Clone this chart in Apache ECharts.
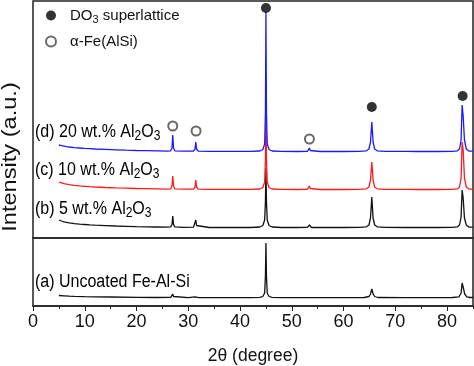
<!DOCTYPE html>
<html>
<head>
<meta charset="utf-8">
<script src="https://cdn.jsdelivr.net/npm/echarts@6/dist/echarts.min.js"></script>
<style>
html,body{margin:0;padding:0;background:#fff;}
#chart{width:474px;height:366px;}
</style>
</head>
<body>
<div id="chart"></div>
<script>
// ---- Data: [2θ (degree), intensity above the trace baseline (a.u.)] ----
const seriesD = [[5,7],[5.5,6.4],[6,5.9],[6.5,5.4],[7,5],[8,4.4],[9,4],[10,3.6],[11,3.3],[12,3],[14,2.6],[16,2.2],[18,1.8],[20,1.5],[22,1.3],[24,1.1],[26,0.9],[26.6,1.2],[26.85,4],[27,17],[27.15,4],[27.4,1.2],[29,0.8],[31,0.9],[31.3,3],[31.45,10],[31.6,3],[31.9,0.9],[34,0.6],[38,0.6],[42,0.6],[43.8,1],[44.4,2.5],[44.75,8],[44.9,40],[45.0,140],[45.1,40],[45.25,8],[45.6,2.5],[46.2,1],[48,0.6],[51,0.5],[53,0.7],[53.25,1.5],[53.4,4],[53.55,1.5],[53.8,0.6],[55.5,0.5],[55.8,2],[56.1,0.5],[60,0.5],[63,0.6],[64.4,1.2],[64.9,3],[65.2,10],[65.45,30],[65.7,10],[66,3],[66.5,1.2],[68,0.6],[71.9,0.6],[72.1,1.5],[72.3,0.6],[74.3,0.5],[74.5,1.5],[74.7,0.5],[78,0.5],[81,0.7],[82,1.2],[82.4,3],[82.7,12],[82.9,47],[83.1,36],[83.35,12],[83.7,3],[84.2,1],[85,0.8]];
const seriesC = [[5,8],[5.5,7.2],[6,6.4],[6.5,5.8],[7,5.3],[8,4.6],[9,4.1],[10,3.7],[11,3.3],[12,3],[14,2.5],[16,2.1],[18,1.8],[20,1.5],[22,1.3],[24,1.1],[26,0.9],[26.6,1.2],[26.85,4],[27,14],[27.15,4],[27.4,1.2],[29,0.8],[31,0.9],[31.3,3],[31.45,10],[31.6,3],[31.9,0.9],[34,0.6],[38,0.6],[42,0.6],[43.8,1],[44.4,2.5],[44.75,8],[44.9,30],[45.0,82],[45.1,30],[45.25,8],[45.6,2.5],[46.2,1],[48,0.6],[51,0.5],[53,0.7],[53.25,1.5],[53.4,4],[53.55,1.5],[53.8,0.6],[55.5,0.5],[55.8,2],[56.1,0.5],[60,0.5],[63,0.6],[64.4,1.2],[64.9,3],[65.2,10],[65.45,28],[65.7,10],[66,3],[66.5,1.2],[68,0.6],[71.9,0.6],[72.1,1.5],[72.3,0.6],[74.3,0.5],[74.5,1.5],[74.7,0.5],[78,0.5],[81,0.7],[82,1.2],[82.4,3],[82.7,12],[82.9,48],[83.1,40],[83.35,12],[83.7,3],[84.2,1],[85,0.8]];
const seriesB = [[5,8],[5.5,7],[6,6.2],[6.5,5.6],[7,5.1],[8,4.4],[9,3.9],[10,3.5],[11,3.1],[12,2.8],[14,2.4],[16,2],[18,1.7],[20,1.4],[22,1.2],[24,1],[26,0.8],[26.6,1.1],[26.85,3.5],[27,12],[27.15,3.5],[27.4,1.1],[29,0.7],[31,0.8],[31.3,2.5],[31.45,8],[31.6,2.5],[31.9,0.8],[34,0.5],[38,0.5],[42,0.5],[43.8,1],[44.4,2.5],[44.75,8],[44.9,26],[45.0,60],[45.1,26],[45.25,8],[45.6,2.5],[46.2,1],[48,0.5],[51,0.5],[53,0.6],[53.25,1.2],[53.4,3],[53.55,1.2],[53.8,0.5],[55.5,0.5],[55.8,1.5],[56.1,0.5],[60,0.5],[63,0.6],[64.4,1.2],[64.9,3],[65.2,10],[65.45,31],[65.7,10],[66,3],[66.5,1.2],[68,0.6],[71.9,0.5],[72.1,1.5],[72.3,0.5],[74.3,0.5],[74.5,1],[74.7,0.5],[78,0.5],[81,0.7],[82,1.2],[82.4,3],[82.7,11],[82.9,38],[83.1,30],[83.35,10],[83.7,3],[84.2,1],[85,0.8]];
const seriesA = [[5,2.5],[6,2.2],[7,1.9],[8,1.7],[10,1.4],[12,1.2],[15,1],[20,0.7],[24,0.5],[26.6,0.6],[26.85,1.5],[27,4],[27.15,1.5],[27.4,0.6],[30,0.4],[31.3,1.2],[31.45,3],[31.6,1.2],[32,0.4],[36,0.3],[42,0.3],[43.8,0.6],[44.4,1.5],[44.75,5],[44.9,22],[45.0,55],[45.1,22],[45.25,5],[45.6,1.5],[46.2,0.6],[48,0.3],[51,0.3],[53.2,0.4],[53.4,1.5],[53.6,0.4],[55.6,0.4],[55.8,1.5],[56,0.4],[60,0.3],[64,0.5],[64.9,1.5],[65.2,4],[65.45,9],[65.7,4],[66,1.5],[66.6,0.5],[71.9,0.3],[72.1,1],[72.3,0.3],[74.3,0.3],[74.5,1],[74.7,0.3],[81,0.5],[82.3,1.2],[82.7,5],[82.9,15],[83.1,11],[83.4,4],[83.8,1.2],[84.4,0.5],[85,0.5]];

// peak markers (2θ, height on the upper panel scale)
const do3Points = [[45.0,230],[65.45,131],[83.0,142]];
const alphaPoints = [[27.0,112],[31.5,107],[53.4,99]];

// tick labels for 2θ axis
const xTicks = [0,10,20,30,40,50,60,70,80];

// stacking offsets (layout only)
const offD = 86, offC = 48, offB = 10, offA = 8;

const shift = (arr, off) => arr.map(p => [p[0], p[1] + off]);

const FONT = 'Liberation Sans, Arial, sans-serif';
const chart = echarts.init(document.getElementById('chart'), null, {renderer:'canvas'});

const labelRich = (color, fs) => ({
  t:{fontSize:fs, fontFamily:FONT, color:color},
  s:{fontSize:Math.round(fs*0.72), fontFamily:FONT, color:color, padding:[Math.round(fs*0.5),0,0,0]}
});
const txt = (s, y, color) => ({
  type:'text', x:35, y:y, scaleY:1.15,
  style:{text:s, rich:labelRich(color, 16), verticalAlign:'middle', align:'left'}
});

chart.setOption({
  animation:false,
  backgroundColor:'#fff',
  grid:[
    {left:33, right:1, top:1, height:237, show:true, borderColor:'#222', borderWidth:1.5, backgroundColor:'transparent'},
    {left:33, right:1, top:238, height:68, show:true, borderColor:'#222', borderWidth:1.5, backgroundColor:'transparent'}
  ],
  xAxis:[
    {gridIndex:0, type:'value', min:0, max:85, interval:10, show:false},
    {gridIndex:1, type:'value', min:0, max:85, interval:10,
      axisLine:{show:true, onZero:false, lineStyle:{color:'#222', width:1.5}},
      axisTick:{show:true, inside:false, length:5, lineStyle:{color:'#222'}},
      splitLine:{show:false},
      axisLabel:{color:'#111', fontSize:18, fontFamily:FONT, margin:7, showMaxLabel:false,
        formatter:(v)=> xTicks.indexOf(v) >= 0 ? String(v) : ''},
      name:'2\u03b8 (degree)', nameLocation:'middle', nameGap:41,
      nameTextStyle:{color:'#111', fontSize:17.5, fontFamily:FONT}
    },
    {gridIndex:1, type:'value', min:0, max:85, interval:5, position:'bottom',
      axisLine:{show:false}, axisLabel:{show:false}, splitLine:{show:false},
      axisTick:{show:true, inside:false, length:3, lineStyle:{color:'#222'}}
    }
  ],
  yAxis:[
    {gridIndex:0, type:'value', min:0, max:237, show:false},
    {gridIndex:1, type:'value', min:0, max:68, show:false}
  ],
  legend:{
    left:40, top:3, orient:'vertical', itemWidth:28, itemHeight:10, itemGap:9,
    data:[{name:'DO3', icon:'circle'},{name:'alpha', icon:'emptyCircle'}],
    formatter:(n)=> n==='DO3' ? '{t|DO}{s|3}{t| superlattice}' : '{t|\u03b1-Fe(AlSi)}',
    textStyle:{rich:labelRich('#111', 15), fontSize:15, fontFamily:FONT},
    selectedMode:false
  },
  series:[
    {name:'(b)', type:'line', xAxisIndex:0, yAxisIndex:0, data:shift(seriesB, offB), symbol:'none', lineStyle:{color:'#111', width:1.3}, z:2},
    {name:'(c)', type:'line', xAxisIndex:0, yAxisIndex:0, data:shift(seriesC, offC), symbol:'none', lineStyle:{color:'#ff1a1a', width:1.3}, z:3},
    {name:'(d)', type:'line', xAxisIndex:0, yAxisIndex:0, data:shift(seriesD, offD), symbol:'none', lineStyle:{color:'#1a1aff', width:1.3}, z:4},
    {name:'(a)', type:'line', xAxisIndex:1, yAxisIndex:1, data:shift(seriesA, offA), symbol:'none', lineStyle:{color:'#111', width:1.3}, z:2},
    {name:'DO3', type:'scatter', xAxisIndex:0, yAxisIndex:0, data:do3Points, symbol:'circle', symbolSize:10, itemStyle:{color:'#000'}, z:5},
    {name:'alpha', type:'scatter', xAxisIndex:0, yAxisIndex:0, data:alphaPoints, symbol:'emptyCircle', symbolSize:9, itemStyle:{color:'#444', borderColor:'#444', borderWidth:1}, z:5}
  ],
  graphic:[
    txt('{t|(d) 20 wt.% Al}{s|2}{t|O}{s|3}', 132, '#2222dd'),
    txt('{t|(c) 10 wt.% Al}{s|2}{t|O}{s|3}', 170, '#e02222'),
    txt('{t|(b) 5 wt.% Al}{s|2}{t|O}{s|3}', 209, '#111'),
    txt('{t|(a) Uncoated Fe-Al-Si}', 282, '#111'),
    {type:'text', x:10, y:157, rotation:Math.PI/2, scaleX:1.18,
      style:{text:'Intensity (a.u.)', fontSize:20, fontFamily:FONT, fill:'#111', align:'center', verticalAlign:'middle'}}
  ]
});
</script>
</body>
</html>
